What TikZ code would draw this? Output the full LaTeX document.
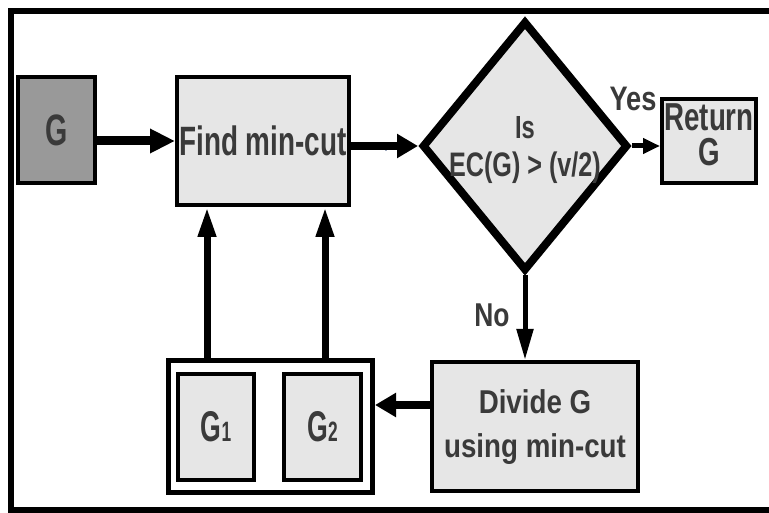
\documentclass[tikz,border=0pt]{standalone}
\usepackage{fontspec}
\setmainfont{Liberation Sans}
\usepackage{graphicx}
\usetikzlibrary{arrows.meta,shapes.geometric}
\definecolor{boxgray}{HTML}{E6E6E6}
\definecolor{dkgray}{HTML}{999999}
\definecolor{txt}{HTML}{3A3A3A}
\definecolor{smallv}{HTML}{6A7A9A}
\newcommand{\sx}[3]{\scalebox{#1}[1]{\fontsize{#2}{#2}\selectfont #3}}
\newcommand{\twol}[5]{\scalebox{#1}[1]{\fontsize{#2}{#3}\selectfont\begin{tabular}{@{}c@{}}\smash{#4}\\\smash{#5}\end{tabular}}}
\begin{document}
\begin{tikzpicture}[x=1pt,y=-1pt,
  box/.style={draw=black, line width=4pt, fill=boxgray, inner sep=0pt, text=txt, font=\bfseries},
  lbl/.style={inner sep=0pt, text=txt, font=\bfseries},
  arrbig/.style={line width=9pt, -{Triangle[length=25pt,width=23pt]}},
  arrmid/.style={line width=8pt, -{Triangle[length=21pt,width=23pt]}},
  arrup/.style={line width=7pt, -{Triangle[length=30pt,width=17pt]}},
  arrthin/.style={line width=5pt, -{Triangle[length=17pt,width=15pt]}},
  arrdown/.style={line width=5pt, -{Triangle[length=31pt,width=16pt]}}]
\useasboundingbox (0,0) rectangle (769,513);
\fill[white] (0,0) rectangle (769,513);
% frame
\draw[line width=6pt, line join=miter] (780,11) -- (11,11) -- (11,510) -- (780,510);
% nodes
\node[box, fill=dkgray, minimum width=77pt, minimum height=106pt] (G) at (56.5,130) {\sx{0.65}{44}{G}};
\node[box, minimum width=172pt, minimum height=128pt] (F) at (263,141) {\sx{0.68}{41}{Find min-cut}};
\node[box, diamond, line width=8pt, minimum width=206pt, minimum height=250pt] (D) at (525,146) {};
\node[lbl] (Dt) at (525,150.4) {\scalebox{0.74}[1]{\fontsize{34}{38}\selectfont\begin{tabular}{@{}c@{}}\smash{\fontsize{32}{38}\selectfont Is}\\\smash{EC(G) > (v/2)}\end{tabular}}};
\node[box, minimum width=94pt, minimum height=84pt] (R) at (709,141) {\raisebox{-4.5pt}{\twol{0.71}{39}{35}{Return}{G}}};
\node[box, minimum width=206pt, minimum height=129pt] (V) at (535,426.5) {\raisebox{-2.7pt}{\twol{0.84}{33}{44}{Divide G}{using min-cut}}};
\node[draw, line width=5pt, fill=white, inner sep=0pt, minimum width=204pt, minimum height=132pt] (H) at (270.5,426.5) {};
\node[box, line width=3.5pt, minimum width=76pt, minimum height=106pt] (G1) at (216,427) {\scalebox{0.62}[1]{\fontsize{43}{43}\selectfont G\fontsize{28}{28}\selectfont 1}};
\node[box, line width=3.5pt, minimum width=77pt, minimum height=106pt] (G2) at (322.5,427) {\scalebox{0.62}[1]{\fontsize{43}{43}\selectfont G\fontsize{28}{28}\selectfont 2}};
% labels
\node[lbl] (yes) at (633,99) {\sx{0.8}{34}{Yes}};
\node[lbl] (no) at (492,315) {\sx{0.8}{33}{No}};
\node[inner sep=0pt, text=smallv] (v) at (386,149) {\fontsize{9}{9}\selectfont v};
% connectors
\draw[arrbig] (G.east |- F.west) -- (F.west);
\draw[arrmid] (F.east |- D.west) -- (D.west);
\draw[arrthin] (D.east) -- (D.east -| R.west);
\draw[arrdown] (D.south) -- (D.south |- V.north);
\draw[arrmid] ([yshift=21.5pt]V.west) -- ([yshift=21.5pt]V.west -| H.east);
\draw[arrup] ([xshift=-56pt]F.south |- H.north) -- ([xshift=-56pt]F.south);
\draw[arrup] ([xshift=62pt]F.south |- H.north) -- ([xshift=62pt]F.south);
\end{tikzpicture}
\end{document}
